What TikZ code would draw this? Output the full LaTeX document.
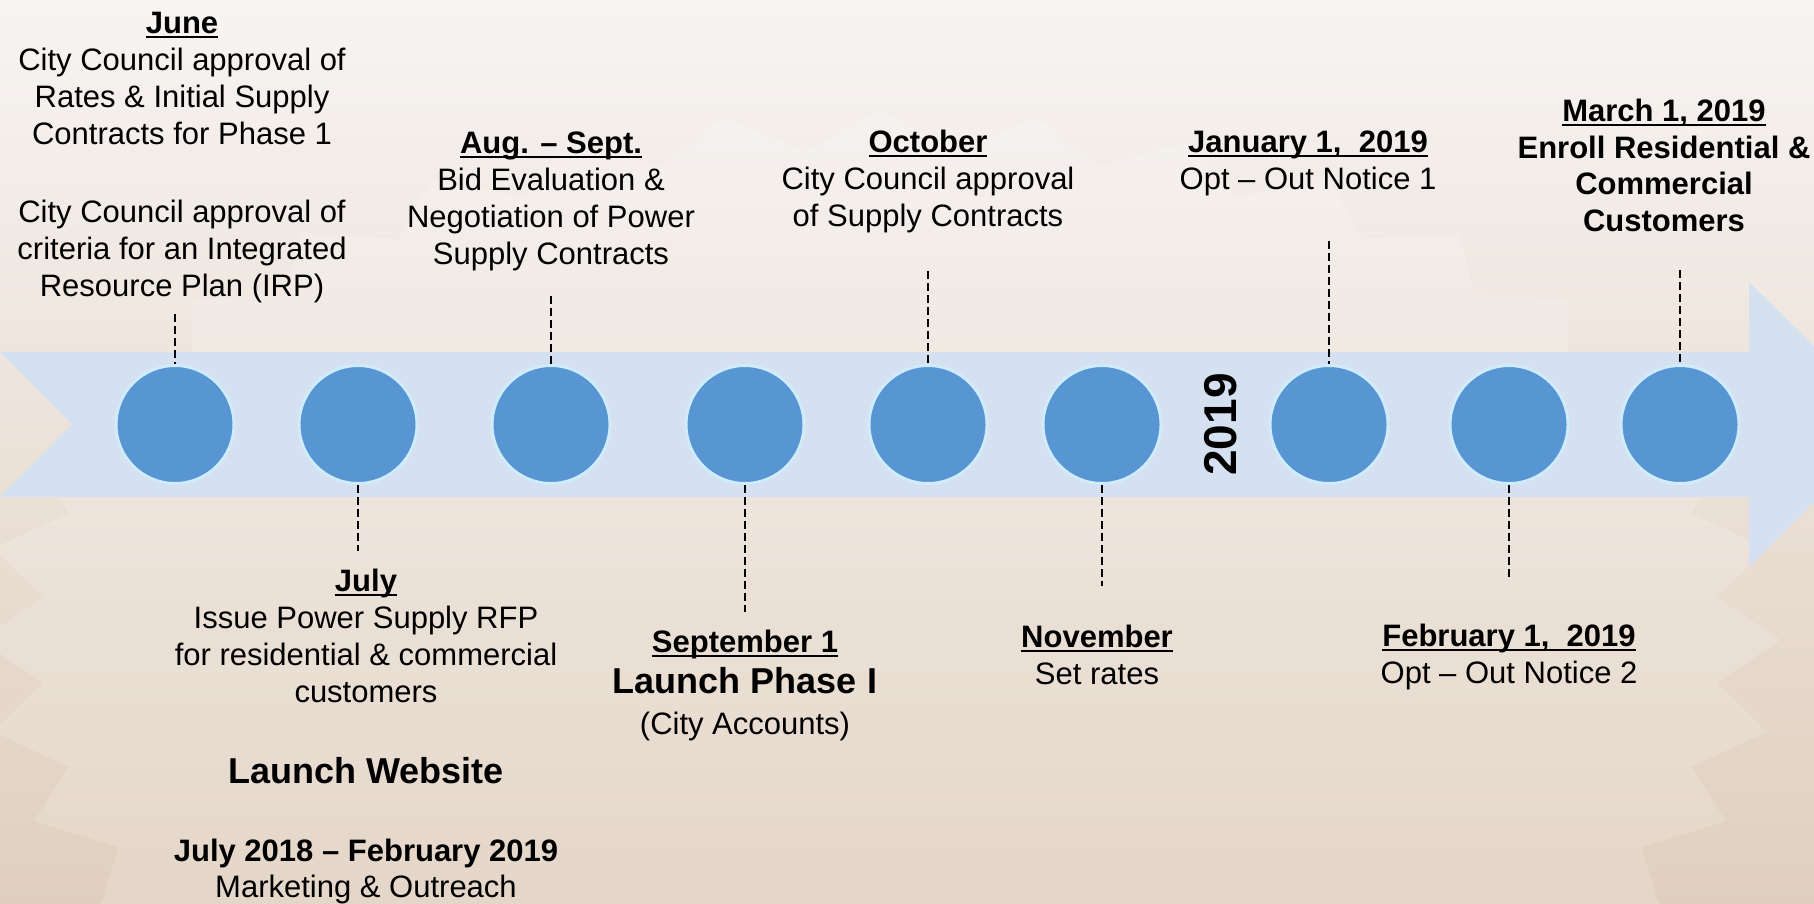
\documentclass[tikz,border=0pt]{standalone}
\usepackage{fontspec}
\setmainfont{Liberation Sans}
\usetikzlibrary{positioning}
\definecolor{bandblue}{RGB}{213,224,240}
\definecolor{dotblue}{RGB}{88,150,211}
\definecolor{dotrim}{RGB}{208,236,250}
\definecolor{bgtop}{RGB}{247,244,242}
\definecolor{bgmid}{RGB}{238,229,220}
\definecolor{bgbot}{RGB}{224,207,190}
\newcommand{\uhead}[1]{\textbf{\setbox0\hbox{#1}\rlap{\rule[-2.2pt]{\wd0}{0.9pt}}\box0}}
\tikzset{
    %Define style for the dots on the band
    milestone/.style={
           circle,
           draw=dotrim, line width=1.5pt,
           fill=dotblue,
           minimum size=59pt,
           inner sep=0pt},
    %Define style for the texts
    note/.style={
           align=center,
           inner sep=0pt,
           font=\fontsize{15.5}{18.5}\selectfont},
    bignote/.style={
           align=center,
           inner sep=0pt,
           font=\fontsize{18}{21}\selectfont\bfseries},
    % Define dashed line style
    leader/.style={
           draw=black,
           line width=1.2pt,
           dash pattern=on 4pt off 2pt}
}

\begin{document}
\begin{tikzpicture}[x=0.5pt,y=-0.5pt]
\useasboundingbox (0,0) rectangle (1814,904);
\clip (0,0) rectangle (1814,904);
\shade[top color=bgtop, middle color=bgmid, bottom color=bgbot] (0,0) rectangle (1814,904);
% faint sun behind the band
\fill[white, opacity=0.16] (880+900,640)
   \foreach \a in {5,10,...,355} {
     -- ({880+(900-60*mod(\a/5,2))*cos(\a)},{640-(530-40*mod(\a/5,2))*sin(\a)})
   } -- cycle;
\fill[bandblue] (0,352) -- (1749,352) -- (1749,282) -- (1892,424.5) -- (1749,567)
   -- (1749,497) -- (0,497) -- (72,424.5) -- cycle;

 %nodes
\node[milestone] (1) at (175,424.5) {};
\node[milestone] (2) at (358,424.5) {};
\node[milestone] (3) at (551,424.5) {};
\node[milestone] (4) at (745,424.5) {};
\node[milestone] (5) at (928,424.5) {};
\node[milestone] (6) at (1102,424.5) {};
\node[milestone] (7) at (1329,424.5) {};
\node[milestone] (8) at (1509,424.5) {};
\node[milestone] (9) at (1680,424.5) {};

\node[rotate=90, font=\fontsize{23}{23}\selectfont\bfseries] (yr) at (1221,424.5) {2019};

\node[note, above=30.5pt of 1, xshift=3.5pt] (t1) {\uhead{June}\\City Council approval of\\Rates \& Initial Supply\\Contracts for Phase 1\\[20.5pt]City Council approval of\\criteria for an Integrated\\Resource Plan (IRP)};
\node[note, below=41.75pt of 2, xshift=4pt] (t2) {\uhead{July}\\Issue Power Supply RFP\\for residential \& commercial\\customers};
\node[bignote, below=26.75pt of t2] (w1) {Launch Website};
\node[note, below=27.2pt of w1, font=\fontsize{15.5}{18}\selectfont] (w2) {\textbf{July 2018 – February 2019}\\Marketing \& Outreach};
\node[note, above=46.25pt of 3] (t3) {\uhead{Aug. – Sept.}\\Bid Evaluation \&\\Negotiation of Power\\Supply Contracts};
\node[note, below=72.5pt of 4, font=\fontsize{15.5}{20.5}\selectfont] (t4) {\uhead{September 1}\\{\fontsize{18}{20.5}\selectfont\bfseries Launch Phase I}\\(City Accounts)};
\node[note, above=65.25pt of 5] (t5) {\uhead{October}\\City Council approval\\of Supply Contracts};
\node[note, below=70pt of 6, xshift=-2.5pt] (t6) {\uhead{November}\\Set rates};
\node[note, above=83.75pt of 7, xshift=-10.5pt] (t7) {\uhead{January 1,\ \ 2019}\\Opt – Out Notice 1};
\node[note, below=69.5pt of 8] (t8) {\uhead{February 1,\ \ 2019}\\Opt – Out Notice 2};
\node[note, above=66pt of 9, xshift=-8pt, font=\fontsize{15.5}{18.25}\selectfont\bfseries] (t9) {\uhead{March 1, 2019}\\Enroll Residential \&\\Commercial\\Customers};

 \path
    (t1.south -| 1) edge[leader, shorten <=5.5pt] (1.north)
    (2.south) edge[leader, shorten >=8.75pt] (t2.north -| 2)
    (t3.south -| 3) edge[leader, shorten <=12.25pt] (3.north)
    (4.south) edge[leader, shorten >=9pt] (t4.north -| 4)
    (t5.south -| 5) edge[leader, shorten <=18.75pt] (5.north)
    (6.south) edge[leader, shorten >=19.5pt] (t6.north -| 6)
    (t7.south -| 7) edge[leader, shorten <=22.25pt] (7.north)
    (8.south) edge[leader, shorten >=22pt] (t8.north -| 8)
    (t9.south -| 9) edge[leader, shorten <=19pt] (9.north);
\end{tikzpicture}
\end{document}
